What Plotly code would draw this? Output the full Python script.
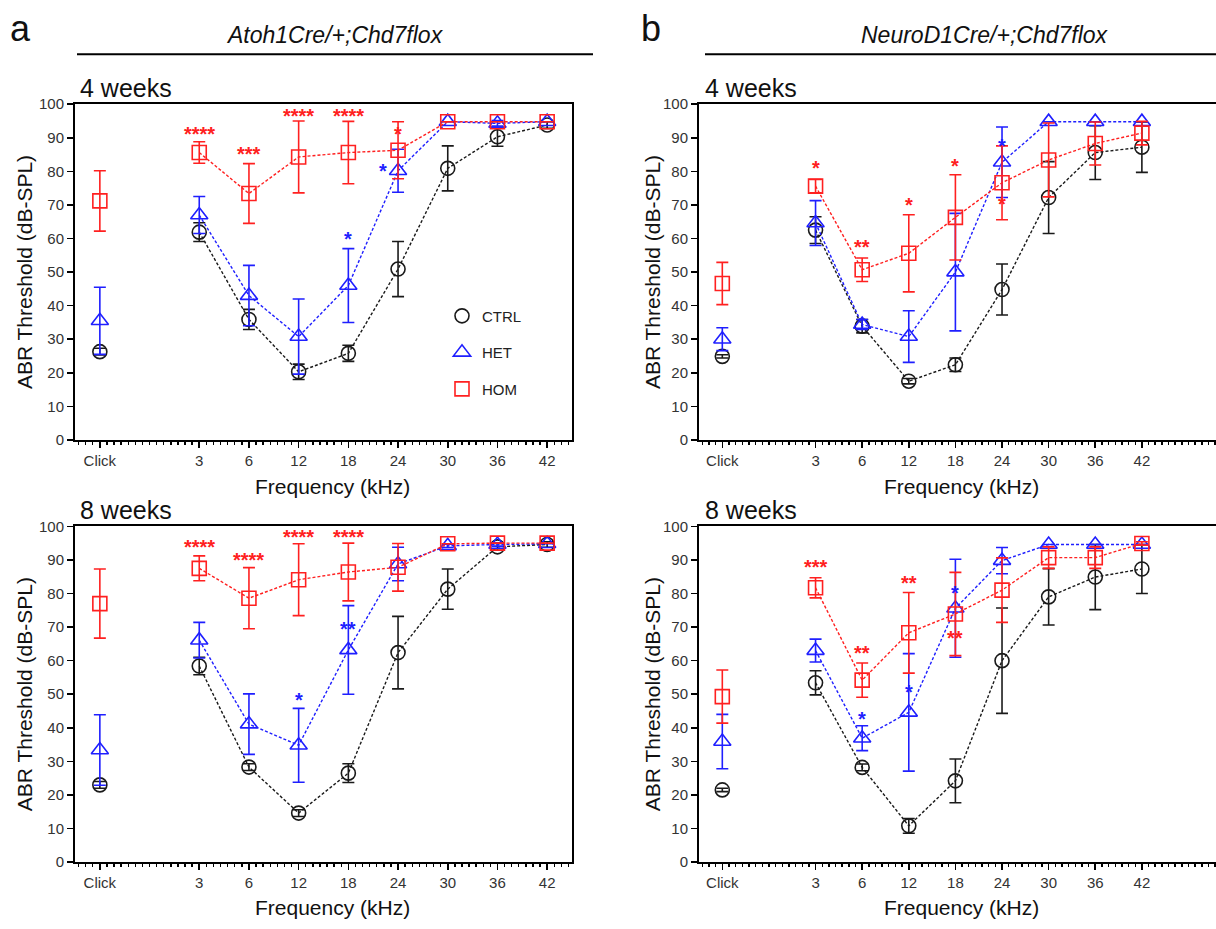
import plotly.graph_objects as go

# ---------------- data ----------------
categories = ["Click", "3", "6", "12", "18", "24", "30", "36", "42"]
cat_pos = [0, 2, 3, 4, 5, 6, 7, 8, 9]   # Click is set apart from the frequencies

# Panel a, 4 weeks (Atoh1Cre/+;Chd7flox)
a4_ctrl = [26.3, 61.9, 35.9, 20.3, 25.8, 50.9, 80.9, 90.3, 93.8]
a4_ctrl_err = [1.0, 2.8, 3.0, 2.3, 2.4, 8.2, 6.7, 2.8, 1.0]
a4_het = [35.5, 67.0, 43.0, 30.8, 46.0, 80.2, 94.8, 94.3, 94.8]
a4_het_err = [10.0, 5.5, 9.0, 11.2, 11.0, 6.4, 0, 0.8, 0]
a4_hom = [71.2, 85.6, 73.4, 84.3, 85.6, 86.3, 94.8, 94.8, 94.8]
a4_hom_err = [9.0, 3.2, 8.9, 10.7, 9.3, 8.5, 0, 0, 0]

# Panel a, 8 weeks
a8_ctrl = [23.0, 58.4, 28.3, 14.6, 26.5, 62.4, 81.3, 93.9, 94.6]
a8_ctrl_err = [1.0, 2.6, 1.0, 1.0, 2.8, 10.8, 6.0, 1.0, 0.8]
a8_het = [33.4, 66.1, 41.1, 34.8, 63.2, 88.8, 94.2, 94.6, 94.8]
a8_het_err = [10.5, 5.3, 9.0, 11.0, 13.2, 5.0, 0.5, 0.5, 0]
a8_hom = [77.0, 87.5, 78.6, 84.1, 86.4, 87.8, 94.8, 95.0, 95.0]
a8_hom_err = [10.3, 3.7, 9.1, 10.7, 8.6, 7.1, 0, 0, 0]

# Panel b, 4 weeks (NeuroD1Cre/+;Chd7flox)
b4_ctrl = [24.9, 62.5, 33.9, 17.5, 22.4, 44.8, 72.2, 85.6, 87.2]
b4_ctrl_err = [0.5, 4.0, 2.0, 0.8, 2.0, 7.6, 10.7, 8.0, 7.5]
b4_het = [30.0, 64.6, 34.4, 30.8, 50.0, 82.7, 94.8, 94.8, 94.8]
b4_het_err = [3.4, 6.7, 1.5, 7.7, 17.5, 10.5, 0, 0, 0]
b4_hom = [46.6, 75.6, 50.7, 55.6, 66.3, 76.6, 83.4, 88.3, 91.4]
b4_hom_err = [6.3, 2.0, 3.5, 11.5, 12.7, 11.0, 11.0, 6.4, 3.5]

# Panel b, 8 weeks
b8_ctrl = [21.5, 53.4, 28.2, 10.8, 24.2, 60.0, 79.0, 84.9, 87.3]
b8_ctrl_err = [0.5, 3.6, 1.0, 2.2, 6.5, 15.7, 8.4, 9.7, 7.3]
b8_het = [35.9, 63.0, 36.9, 44.6, 75.6, 89.8, 94.6, 94.6, 94.6]
b8_het_err = [8.1, 3.4, 3.7, 17.5, 14.6, 3.9, 0, 0, 0]
b8_hom = [49.3, 81.7, 54.2, 68.3, 73.9, 81.0, 90.7, 90.7, 94.9]
b8_hom_err = [7.9, 3.0, 5.1, 12.0, 12.4, 9.6, 3.2, 3.2, 0.5]

# significance marks: x (category units), y (dB), text, group
a4_star_x = [2, 3, 4, 5, 6, 5, 5.7]
a4_star_y = [92.4, 86.3, 97.8, 97.8, 92.4, 61.0, 81.4]
a4_star_t = ["****", "***", "****", "****", "*", "*", "*"]
a4_star_g = ["HOM", "HOM", "HOM", "HOM", "HOM", "HET", "HET"]

a8_star_x = [2, 3, 4, 5, 4, 5]
a8_star_y = [95.1, 91.2, 97.9, 97.9, 49.4, 70.6]
a8_star_t = ["****", "****", "****", "****", "*", "**"]
a8_star_g = ["HOM", "HOM", "HOM", "HOM", "HET", "HET"]

b4_star_x = [2, 3, 4, 5, 6, 6]
b4_star_y = [82.2, 58.6, 71.2, 82.8, 71.4, 88.7]
b4_star_t = ["*", "**", "*", "*", "*", "*"]
b4_star_g = ["HOM", "HOM", "HOM", "HOM", "HOM", "HET"]

b8_star_x = [2, 3, 4, 5, 5, 3, 4]
b8_star_y = [89.0, 63.4, 84.4, 68.0, 81.3, 43.7, 51.9]
b8_star_t = ["***", "**", "**", "**", "*", "*", "*"]
b8_star_g = ["HOM", "HOM", "HOM", "HOM", "HET", "HET", "HET"]

groups = ["CTRL", "HET", "HOM"]
y_ticks = [0, 10, 20, 30, 40, 50, 60, 70, 80, 90, 100]

# ---------------- styling ----------------
W, H = 1216, 929
FONT = "Liberation Sans, Arial, Helvetica, sans-serif"
colors = {"CTRL": "#1a1a1a", "HET": "#1f1fff", "HOM": "#ff2020"}
symbols = {"CTRL": "circle-open", "HET": "triangle-up-open", "HOM": "square-open"}
msize = {"CTRL": 14, "HET": 15, "HOM": 14}


def px_x(p):
    return p / W


def px_y(p):
    return 1 - p / H


panels = [
    ("", (75, 572), (97, 439), 9.5,
     {"CTRL": (a4_ctrl, a4_ctrl_err), "HET": (a4_het, a4_het_err), "HOM": (a4_hom, a4_hom_err)},
     (a4_star_x, a4_star_y, a4_star_t, a4_star_g)),
    ("2", (699, 1216), (97, 439), 10.59,
     {"CTRL": (b4_ctrl, b4_ctrl_err), "HET": (b4_het, b4_het_err), "HOM": (b4_hom, b4_hom_err)},
     (b4_star_x, b4_star_y, b4_star_t, b4_star_g)),
    ("3", (75, 572), (527, 869), 9.5,
     {"CTRL": (a8_ctrl, a8_ctrl_err), "HET": (a8_het, a8_het_err), "HOM": (a8_hom, a8_hom_err)},
     (a8_star_x, a8_star_y, a8_star_t, a8_star_g)),
    ("4", (699, 1216), (527, 869), 10.59,
     {"CTRL": (b8_ctrl, b8_ctrl_err), "HET": (b8_het, b8_het_err), "HOM": (b8_hom, b8_hom_err)},
     (b8_star_x, b8_star_y, b8_star_t, b8_star_g)),
]

fig = go.Figure()
annotations = []
layout_axes = {}

for suf, xd, yd, xr, data, stars in panels:
    xa, ya = "x" + suf, "y" + suf
    for g in groups:
        mean, err = data[g]
        c = colors[g]
        eb_click = dict(type="data", array=err[:1], color=c, thickness=1.6, width=6)
        eb_freq = dict(type="data", array=err[1:], color=c, thickness=1.6, width=6)
        mk = dict(symbol=symbols[g], size=msize[g], color=c, line=dict(width=1.6, color=c))
        fig.add_trace(go.Scatter(x=cat_pos[:1], y=mean[:1], mode="markers", marker=mk,
                                 error_y=eb_click, showlegend=False, xaxis=xa, yaxis=ya))
        fig.add_trace(go.Scatter(x=cat_pos[1:], y=mean[1:], mode="lines+markers", marker=mk,
                                 line=dict(color=c, width=1.4, dash="3px,2px"),
                                 error_y=eb_freq, showlegend=False, xaxis=xa, yaxis=ya))
    sx, sy, st, sg = stars
    for x_, y_, t_, g_ in zip(sx, sy, st, sg):
        annotations.append(dict(x=x_, y=y_, xref=xa, yref=ya, text="<b>" + t_ + "</b>",
                                showarrow=False, yshift=-4,
                                font=dict(family=FONT, size=20, color=colors[g_])))

    xkey = "xaxis" + suf
    ykey = "yaxis" + suf
    layout_axes[xkey] = dict(
        domain=[px_x(xd[0]), px_x(xd[1])], anchor=ya, range=[-0.5, xr],
        tickmode="array", tickvals=cat_pos, ticktext=categories,
        showline=True, linecolor="black", linewidth=2, mirror=True,
        ticks="outside", ticklen=6, tickwidth=1.6, tickcolor="black",
        minor=dict(tickmode="linear", tick0=0, dtick=1 / 7, ticks="outside",
                   ticklen=3, tickwidth=1.4, tickcolor="black", showgrid=False),
        showgrid=False, zeroline=False,
        tickfont=dict(family=FONT, size=15, color="#333333"),
    )
    layout_axes[ykey] = dict(
        domain=[px_y(yd[1]), px_y(yd[0])], anchor=xa, range=[0, 100],
        tickmode="array", tickvals=y_ticks,
        showline=True, linecolor="black", linewidth=2, mirror=(suf in ("", "3")),
        ticks="outside", ticklen=6, tickwidth=1.6, tickcolor="black",
        showgrid=False, zeroline=False,
        tickfont=dict(family=FONT, size=15, color="#333333"),
    )

for g in groups:
    fig.add_trace(go.Scatter(x=[None], y=[None], mode="markers", name=g, legendgroup=g,
                             marker=dict(symbol=symbols[g], size=msize[g], color=colors[g],
                                         line=dict(width=1.6, color=colors[g])),
                             xaxis="x", yaxis="y"))


def txt(text, x, y, size, color="#111111", angle=0, italic=False, xanchor="center"):
    annotations.append(dict(text=text, x=px_x(x), y=px_y(y), xref="paper", yref="paper",
                            showarrow=False, textangle=angle, xanchor=xanchor, yanchor="middle",
                            font=dict(family=FONT, size=size, color=color,
                                      style="italic" if italic else "normal")))


txt("a", 20, 20, 36)
txt("b", 651, 20, 36)
txt("Atoh1Cre/+;Chd7flox", 335, 26, 23, italic=True)
txt("NeuroD1Cre/+;Chd7flox", 985, 26, 23, italic=True)
txt("4 weeks", 78, 80, 25, xanchor="left")
txt("8 weeks", 78, 510, 25, xanchor="left")
txt("4 weeks", 703, 80, 25, xanchor="left")
txt("8 weeks", 703, 510, 25, xanchor="left")
for xc in (332, 962):
    txt("Frequency (kHz)", xc, 486, 21)
    txt("Frequency (kHz)", xc, 915, 21)
for xc in (24, 652):
    txt("ABR Threshold (dB-SPL)", xc, 268, 21, angle=-90)
    txt("ABR Threshold (dB-SPL)", xc, 698, 21, angle=-90)

shapes = [
    dict(type="line", xref="paper", yref="paper", x0=px_x(77), x1=px_x(593),
         y0=px_y(46), y1=px_y(46), line=dict(color="black", width=2)),
    dict(type="line", xref="paper", yref="paper", x0=px_x(705), x1=px_x(1216),
         y0=px_y(46), y1=px_y(46), line=dict(color="black", width=2)),
]

fig.update_layout(
    width=W, height=H, margin=dict(l=0, r=0, t=0, b=0),
    paper_bgcolor="white", plot_bgcolor="white",
    font=dict(family=FONT, color="#222222"),
    annotations=annotations, shapes=shapes,
    showlegend=True, hovermode=False,
    legend=dict(x=px_x(442), y=px_y(296), xanchor="left", yanchor="top",
                bgcolor="rgba(0,0,0,0)", tracegroupgap=14,
                font=dict(family=FONT, size=15, color="#222222")),
    **layout_axes,
)

fig.write_html("out.html", config={"displayModeBar": False, "staticPlot": True},
               post_script="document.body.style.margin='0px';document.body.style.overflow='hidden';")
